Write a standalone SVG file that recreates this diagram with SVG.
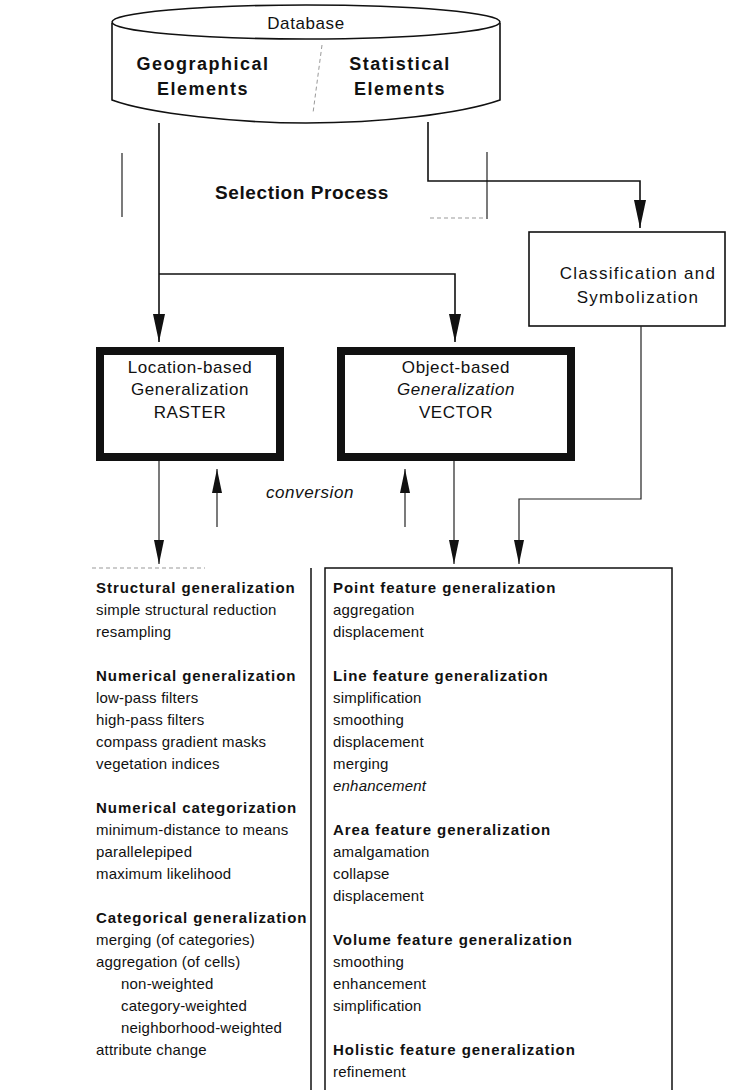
<svg xmlns="http://www.w3.org/2000/svg" width="738" height="1090" viewBox="0 0 738 1090">
  <defs>
    <marker id="head" markerUnits="userSpaceOnUse" markerWidth="30" markerHeight="14" refX="28" refY="6" orient="auto">
      <path d="M0,0 L28,6 L0,12 z" fill="#111"/>
    </marker>
    <marker id="headSmall" markerUnits="userSpaceOnUse" markerWidth="26" markerHeight="12" refX="24" refY="5" orient="auto">
      <path d="M0,0 L24,5 L0,10 z" fill="#111"/>
    </marker>
    <style>
      text { font-family: "Liberation Sans", Arial, Helvetica, sans-serif; fill: #111; }
      .big { font-size: 18px; font-weight: bold; letter-spacing: 1.5px; }
      .sel { font-size: 19px; font-weight: bold; letter-spacing: 0.6px; }
      .lbl { font-size: 17px; letter-spacing: 0.6px; }
      .cls { font-size: 17px; letter-spacing: 1.3px; }
      .it { font-style: italic; }
      .hd { font-size: 15px; font-weight: bold; letter-spacing: 0.95px; }
      .li { font-size: 15px; letter-spacing: 0.2px; }
      .edge { fill: none; stroke: #111; stroke-width: 1.6; }
      .thin { fill: none; stroke: #222; stroke-width: 1.2; }
      .faint { fill: none; stroke: #999; stroke-width: 1; stroke-dasharray: 4 3; }
      .thick { fill: #fff; stroke: #111; stroke-width: 8; }
      .box { fill: #fff; stroke: #111; stroke-width: 1.6; }
      .panel { fill: none; stroke: #111; stroke-width: 1.5; }
    </style>
  </defs>

  <rect width="738" height="1090" fill="#fff"/>

  <!-- database cylinder -->
  <g id="database">
    <path class="edge" d="M112,23 L112,100 C150,114 240,123 306,123 C380,123 460,114 500,100 L500,23"/>
    <ellipse class="edge" cx="306" cy="22" rx="194" ry="17"/>
    <text class="lbl" x="306" y="29" text-anchor="middle">Database</text>
    <text class="big" x="203" y="70" text-anchor="middle">Geographical</text>
    <text class="big" x="203" y="95" text-anchor="middle">Elements</text>
    <text class="big" x="400" y="70" text-anchor="middle">Statistical</text>
    <text class="big" x="400" y="95" text-anchor="middle">Elements</text>
    <path class="faint" d="M322,45 L313,113"/>
  </g>

  <!-- selection bracket -->
  <g id="selection">
    <path class="thin" d="M122,153 L122,217"/>
    <path class="thin" d="M487,152 L487,219"/>
    <path class="faint" d="M430,218 L484,218"/>
    <text class="sel" x="302" y="199" text-anchor="middle">Selection Process</text>
  </g>

  <g id="classification">
    <rect class="box" x="529" y="232" width="196" height="94"/>
    <text class="cls" x="638" y="279" text-anchor="middle">Classification and</text>
    <text class="cls" x="638" y="303" text-anchor="middle">Symbolization</text>
  </g>

  <g id="raster">
    <rect class="thick" x="100" y="351" width="180" height="106"/>
    <text class="lbl" x="190" y="373" text-anchor="middle">Location-based</text>
    <text class="lbl" x="190" y="395" text-anchor="middle">Generalization</text>
    <text class="lbl" x="190" y="418" text-anchor="middle">RASTER</text>
  </g>

  <g id="vector">
    <rect class="thick" x="341" y="351" width="230" height="106"/>
    <text class="lbl" x="456" y="373" text-anchor="middle">Object-based</text>
    <text class="lbl it" x="456" y="395" text-anchor="middle">Generalization</text>
    <text class="lbl" x="456" y="418" text-anchor="middle">VECTOR</text>
  </g>

  <text id="conversion" class="lbl it" x="310" y="498" text-anchor="middle">conversion</text>

  <!-- connectors -->
  <g id="connectors">
    <path class="edge" d="M159,123 L159,342" marker-end="url(#head)"/>
    <path class="edge" d="M159,274 L455,274 L455,342" marker-end="url(#head)"/>
    <path class="edge" d="M428,122 L428,181 L640,181 L640,228" marker-end="url(#head)"/>
    <path class="thin" d="M641,326 L641,499 L519,499 L519,564" marker-end="url(#headSmall)"/>
    <path class="thin" d="M159,461 L159,564" marker-end="url(#headSmall)"/>
    <path class="thin" d="M454,461 L454,564" marker-end="url(#headSmall)"/>
    <path class="thin" d="M217,527 L217,469" marker-end="url(#headSmall)"/>
    <path class="thin" d="M405,527 L405,469" marker-end="url(#headSmall)"/>
  </g>

  <!-- raster operations list -->
  <g id="raster-list">
    <path class="faint" d="M92,568 L205,568"/>
    <path class="panel" d="M311,568 L311,1090"/>
    <text class="hd" x="96" y="593">Structural generalization</text>
    <text class="li" x="96" y="615">simple structural reduction</text>
    <text class="li" x="96" y="637">resampling</text>
    <text class="hd" x="96" y="681">Numerical generalization</text>
    <text class="li" x="96" y="703">low-pass filters</text>
    <text class="li" x="96" y="725">high-pass filters</text>
    <text class="li" x="96" y="747">compass gradient masks</text>
    <text class="li" x="96" y="769">vegetation indices</text>
    <text class="hd" x="96" y="813">Numerical categorization</text>
    <text class="li" x="96" y="835">minimum-distance to means</text>
    <text class="li" x="96" y="857">parallelepiped</text>
    <text class="li" x="96" y="879">maximum likelihood</text>
    <text class="hd" x="96" y="923" letter-spacing="0.7">Categorical generalization</text>
    <text class="li" x="96" y="945">merging (of categories)</text>
    <text class="li" x="96" y="967">aggregation (of cells)</text>
    <text class="li" x="121" y="989">non-weighted</text>
    <text class="li" x="121" y="1011">category-weighted</text>
    <text class="li" x="121" y="1033">neighborhood-weighted</text>
    <text class="li" x="96" y="1055">attribute change</text>
  </g>

  <!-- vector operations list -->
  <g id="vector-list">
    <path class="panel" d="M325,1090 L325,568 L672,568 L672,1090"/>
    <text class="hd" x="333" y="593">Point feature generalization</text>
    <text class="li" x="333" y="615">aggregation</text>
    <text class="li" x="333" y="637">displacement</text>
    <text class="hd" x="333" y="681">Line feature generalization</text>
    <text class="li" x="333" y="703">simplification</text>
    <text class="li" x="333" y="725">smoothing</text>
    <text class="li" x="333" y="747">displacement</text>
    <text class="li" x="333" y="769">merging</text>
    <text class="li it" x="333" y="791">enhancement</text>
    <text class="hd" x="333" y="835">Area feature generalization</text>
    <text class="li" x="333" y="857">amalgamation</text>
    <text class="li" x="333" y="879">collapse</text>
    <text class="li" x="333" y="901">displacement</text>
    <text class="hd" x="333" y="945">Volume feature generalization</text>
    <text class="li" x="333" y="967">smoothing</text>
    <text class="li" x="333" y="989">enhancement</text>
    <text class="li" x="333" y="1011">simplification</text>
    <text class="hd" x="333" y="1055">Holistic feature generalization</text>
    <text class="li" x="333" y="1077">refinement</text>
  </g>
</svg>
